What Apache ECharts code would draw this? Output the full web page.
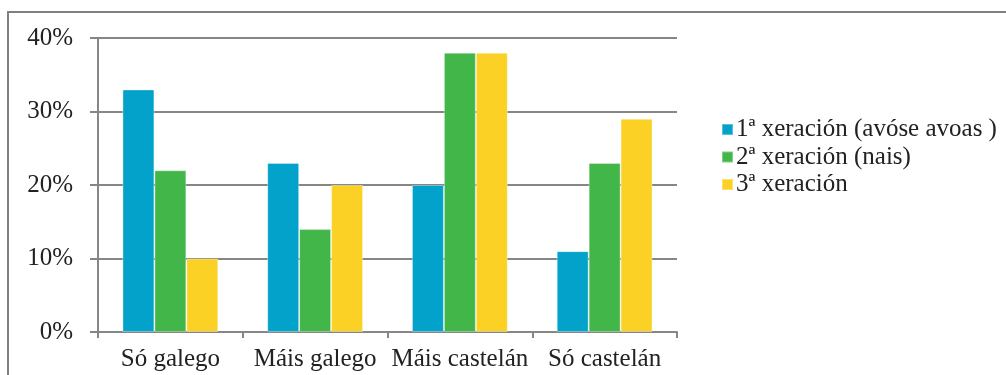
<!DOCTYPE html>
<html>
<head>
<meta charset="utf-8">
<script src="https://cdn.jsdelivr.net/npm/echarts@6/dist/echarts.min.js"></script>
<style>html,body{margin:0;padding:0;background:#fff}#c{width:1006px;height:375px}</style>
</head>
<body>
<div id="c"></div>
<script>
const categories = ['Só galego', 'Máis galego', 'Máis castelán', 'Só castelán'];
const seriesNames = ['1ª xeración (avóse avoas )', '2ª xeración (nais)', '3ª xeración'];
const gen1 = [33, 23, 20, 11];
const gen2 = [22, 14, 38, 23];
const gen3 = [10, 20, 38, 29];
const colors = ['#02A2CA', '#43B649', '#FBD126'];

const chart = echarts.init(document.getElementById('c'), null, {renderer: 'canvas'});
const font = 'Liberation Serif';
const gray = '#868686';
const mk = (name, data, color) => ({
  name, type: 'bar', data, barGap: '0%', barCategoryGap: '33.8%',
  itemStyle: {color, borderColor: 'rgba(255,255,255,0.35)', borderWidth: 1},
  emphasis: {disabled: true}
});
chart.setOption({
  animation: false,
  color: colors,
  graphic: [{
    type: 'rect', shape: {x: 8, y: 12, width: 1100, height: 500},
    style: {fill: 'none', stroke: '#808080', lineWidth: 2}, silent: true, z: -1
  }],
  grid: {left: 98, right: 329, top: 38, bottom: 43, containLabel: false},
  legend: {
    orient: 'vertical', left: 716, top: 112,
    itemWidth: 11, itemHeight: 11, itemGap: 2.5,
    icon: 'rect',
    textStyle: {fontFamily: font, fontSize: 25, color: '#222', padding: [0, 0, 0, -2]},
    data: seriesNames
  },
  xAxis: {
    type: 'category', data: categories,
    axisLine: {lineStyle: {color: gray, width: 2}},
    axisTick: {show: true, length: 6, lineStyle: {color: gray, width: 2}},
    axisLabel: {fontFamily: font, fontSize: 25, color: '#222', margin: 15, interval: 0, hideOverlap: false}
  },
  yAxis: {
    type: 'value', min: 0, max: 40, interval: 10,
    axisLine: {show: true, lineStyle: {color: gray, width: 2}},
    axisTick: {show: true, length: 8, lineStyle: {color: gray, width: 2}},
    splitLine: {lineStyle: {color: gray, width: 2}},
    axisLabel: {fontFamily: font, fontSize: 25, color: '#222', margin: 25, formatter: '{value}%'}
  },
  series: [mk(seriesNames[0], gen1, colors[0]), mk(seriesNames[1], gen2, colors[1]), mk(seriesNames[2], gen3, colors[2])]
});
</script>
</body>
</html>
